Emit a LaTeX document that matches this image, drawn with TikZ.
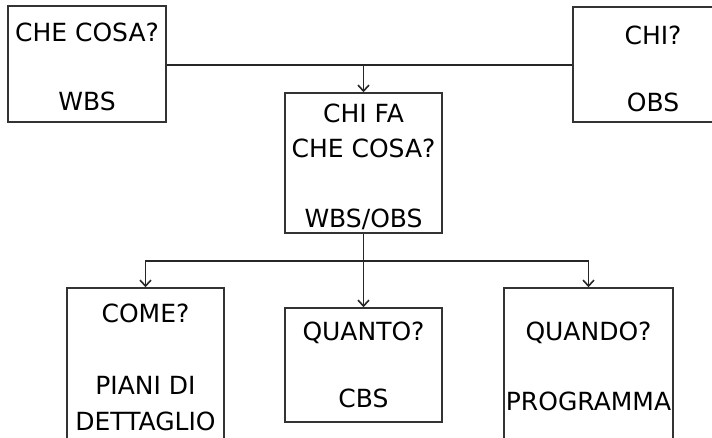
\documentclass[tikz,border=0pt]{standalone}
\usepackage{fontspec}
\setmainfont{DejaVu Sans}
\usetikzlibrary{arrows.meta}
\begin{document}
\begin{tikzpicture}[x=1pt,y=-1pt,
  box/.style={draw=black!80, line width=1.5pt, fill=white, inner sep=0pt},
  lbl/.style={anchor=base, inner sep=0pt, font=\fontsize{25}{30}\selectfont},
  link/.style={draw=black!85, line width=1.5pt},
  arr/.style={link, -{Straight Barb[length=6pt,width=11pt,line width=1.6pt]}}]
\useasboundingbox (0,0) rectangle (712,437);
\clip (0,0) rectangle (712,437);
\fill[white] (0,0) rectangle (712,437);

% boxes
\node[box, minimum width=158pt, minimum height=116pt] (what) at (87,64) {};
\node[box, minimum width=160pt, minimum height=115pt] (who) at (653,64.5) {};
\node[box, minimum width=157pt, minimum height=140pt] (whowhat) at (363.5,163) {};
\node[box, minimum width=157pt, minimum height=200pt] (how) at (145.5,388) {};
\node[box, minimum width=157pt, minimum height=114pt] (howmuch) at (363.5,365) {};
\node[box, minimum width=169pt, minimum height=200pt] (when) at (588.5,388) {};

% labels
\node[lbl] (t1) at (87,41) {CHE COSA?};
\node[lbl] (t2) at (87,110) {WBS};
\node[lbl] (t3) at (653,44) {CHI?};
\node[lbl] (t4) at (653,111) {OBS};
\node[lbl] (t5) at (363.5,122) {CHI FA};
\node[lbl] (t6) at (363.5,157) {CHE COSA?};
\node[lbl] (t7) at (363.5,227) {WBS/OBS};
\node[lbl] (t8) at (145.5,322) {COME?};
\node[lbl] (t9) at (145.5,394) {PIANI DI};
\node[lbl] (t10) at (145.5,430) {DETTAGLIO};
\node[lbl] (t11) at (363.5,340) {QUANTO?};
\node[lbl] (t12) at (363.5,407) {CBS};
\node[lbl] (t13) at (588.5,340) {QUANDO?};
\node[lbl] (t14) at (588.5,410) {PROGRAMMA};

% connectors
\coordinate (topjoin) at (whowhat.north |- 0,65);
\coordinate (split) at (whowhat.south |- 0,261);
\draw[link] (what.east |- topjoin) -- (who.west |- topjoin);
\draw[arr] (topjoin) -- (whowhat.north);
\draw[arr] (whowhat.south) -- (howmuch.north);
\draw[arr] (split) -| (how.north);
\draw[arr] (split) -| (when.north);
\end{tikzpicture}
\end{document}
